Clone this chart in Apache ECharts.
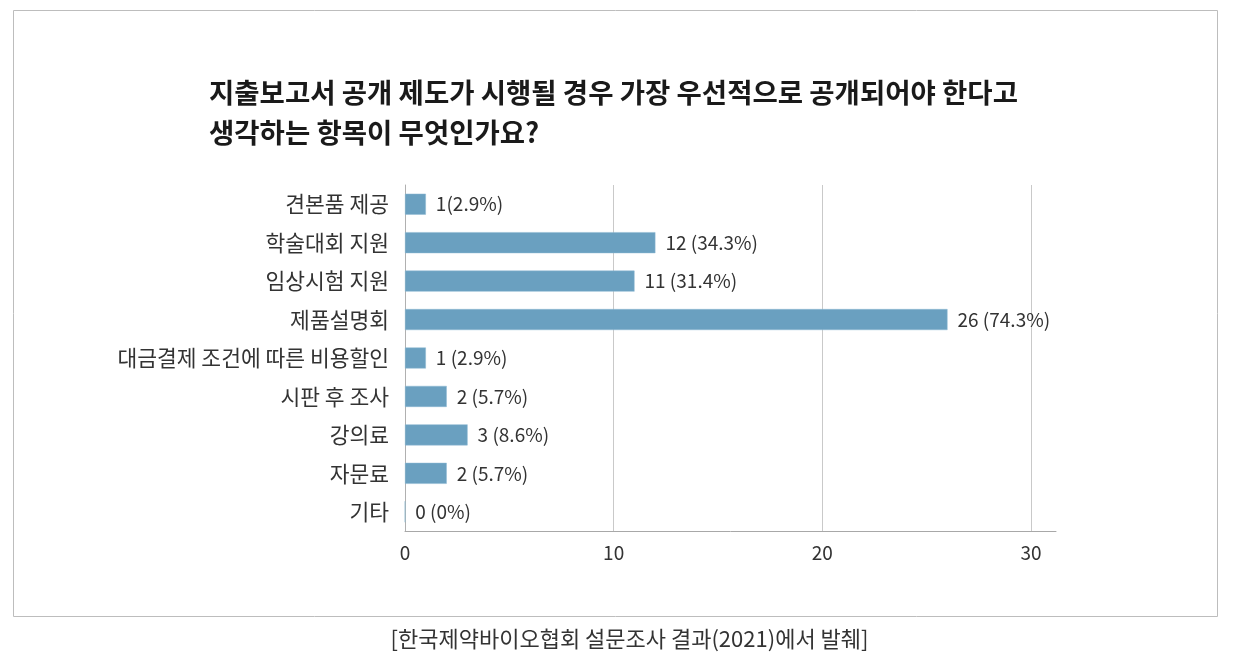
<!DOCTYPE html>
<html>
<head>
<meta charset="utf-8">
<script src="https://cdn.jsdelivr.net/npm/echarts@6/dist/echarts.min.js"></script>
<style>
html,body{margin:0;padding:0;background:#fff;}
#c{width:1259px;height:663px;}
</style>
</head>
<body>
<div id="c"></div>
<script>
const categories = ['견본품 제공','학술대회 지원','임상시험 지원','제품설명회','대금결제 조건에 따른 비용할인','시판 후 조사','강의료','자문료','기타'];
const counts = [1, 12, 11, 26, 1, 2, 3, 2, 0];
const labels = ['1(2.9%)','12 (34.3%)','11 (31.4%)','26 (74.3%)','1 (2.9%)','2 (5.7%)','3 (8.6%)','2 (5.7%)','0 (0%)'];
const xTicks = [0, 10, 20, 30];
const titleText = '지출보고서 공개 제도가 시행될 경우 가장 우선적으로 공개되어야 한다고\n생각하는 항목이 무엇인가요?';
const captionText = '[한국제약바이오협회 설문조사 결과(2021)에서 발췌]';

const FONT = '"Noto Sans CJK KR", "Noto Sans", sans-serif';
const chart = echarts.init(document.getElementById('c'));
chart.setOption({
  backgroundColor: '#fff',
  animation: false,
  textStyle: { fontFamily: FONT },
  graphic: [
    { type: 'rect', shape: { x: 13.5, y: 10.5, width: 1204, height: 606 },
      style: { fill: 'none', stroke: '#bdbdbd', lineWidth: 1 }, z: -1 },
    { type: 'text', left: 'center', top: 628,
      style: { text: captionText, font: '22px ' + FONT, fill: '#333' } }
  ],
  title: {
    text: titleText, left: 204, top: 68,
    textStyle: { fontFamily: FONT, fontSize: 27.5, fontWeight: 'bold', color: '#1a1a1a', lineHeight: 40 }
  },
  grid: { left: 405, top: 185, width: 651, height: 346, containLabel: false },
  xAxis: {
    type: 'value', min: 0, max: 31.2, interval: 10,
    axisLine: { show: true, lineStyle: { color: '#a8a8a8', width: 1 } },
    axisTick: { show: false },
    axisLabel: { color: '#333', fontSize: 19, margin: 12,
      formatter: v => (xTicks.indexOf(v) >= 0 ? String(v) : '') },
    splitLine: { show: true, showMaxLine: false, lineStyle: { color: '#c9c9c9', width: 1 } }
  },
  yAxis: {
    type: 'category', data: categories, inverse: true,
    axisLine: { show: true, lineStyle: { color: '#b0b0b0', width: 1 } },
    axisTick: { show: false },
    axisLabel: { color: '#333', fontSize: 21.5, margin: 16 }
  },
  series: [{
    type: 'bar', data: counts, barWidth: 21,
    itemStyle: { color: '#6aa0c0', borderColor: '#8db8d2', borderWidth: 0.5 },
    label: { show: true, position: 'right', distance: 10, color: '#333', fontSize: 19,
      formatter: p => labels[p.dataIndex] }
  }]
});
</script>
</body>
</html>
